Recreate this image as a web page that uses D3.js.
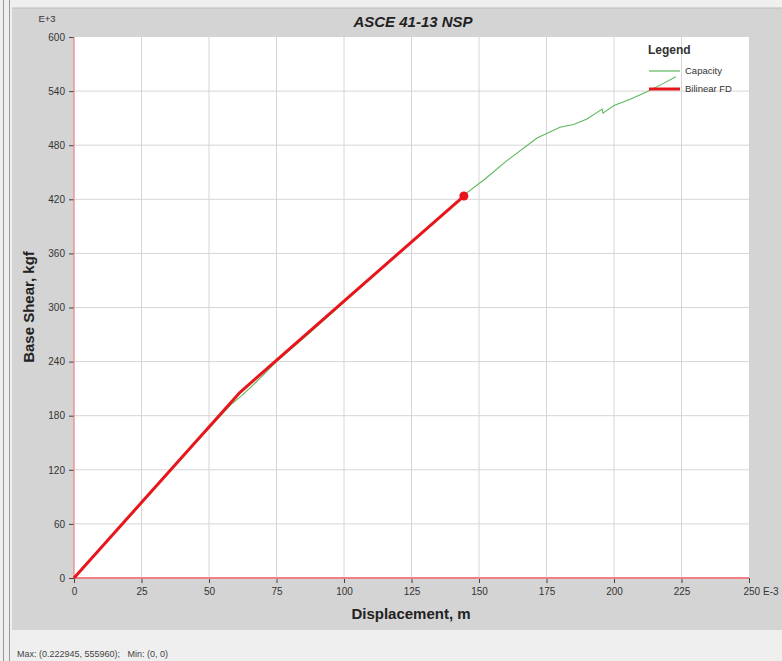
<!DOCTYPE html>
<html><head><meta charset="utf-8">
<script src="https://cdn.jsdelivr.net/npm/d3@7"></script>
<style>
body{margin:0;background:#ececec;font-family:"Liberation Sans Narrow","Liberation Sans",Arial,sans-serif;}
</style></head>
<body>
<svg id="c" width="782" height="661"></svg>
<script>
const xTicks = [0,25,50,75,100,125,150,175,200,225,250];
const yTicks = [0,60,120,180,240,300,360,420,480,540,600];
// Displacement (E-3 m) and Base shear (E+3 kgf)
const capDisp = [0,10,20,30,40,50,58,62,66,75,87,100,112,125,135,145,152,160,171.5,180,185,190,195.6,195.9,200,206,212,218,222.9];
const capShear = [0,34,68,101,134,166,192,202,213,240,271,306,338,372,398,426,442,462,488,500,503,509,520,515.6,524,531,539,548,556];
const bilDisp = [0,61.5,144.4];
const bilShear = [0,206,423.6];
const title = "ASCE 41-13 NSP";
const xTitle = "Displacement, m";
const yTitle = "Base Shear, kgf";
const statusText = "Max: (0.222945, 555960);   Min: (0, 0)";

const svg = d3.select("#c");
const L=74,R=749,T=37,B=578;
const x = d3.scaleLinear().domain([0,250]).range([L,R]);
const y = d3.scaleLinear().domain([0,600]).range([B,T]);

// frame
svg.append("rect").attr("x",0).attr("y",0).attr("width",782).attr("height",661).attr("fill","#efefef");
svg.append("rect").attr("x",12).attr("y",8).attr("width",770).attr("height",622).attr("fill","#d4d4d4");
svg.append("line").attr("x1",12).attr("x2",782).attr("y1",8).attr("y2",8).attr("stroke","#bdbdbd");
svg.append("line").attr("x1",3.5).attr("x2",3.5).attr("y1",0).attr("y2",661).attr("stroke","#9a9a9a");
svg.append("line").attr("x1",9.5).attr("x2",9.5).attr("y1",0).attr("y2",661).attr("stroke","#9a9a9a");

// plot area
svg.append("rect").attr("x",L).attr("y",T).attr("width",R-L).attr("height",B-T).attr("fill","#ffffff");

// grid
svg.append("g").selectAll("line").data(xTicks.slice(1,-1)).join("line")
  .attr("x1",d=>x(d)).attr("x2",d=>x(d)).attr("y1",T).attr("y2",B).attr("stroke","#d6d6d6");
svg.append("g").selectAll("line").data(yTicks.slice(1,-1)).join("line")
  .attr("y1",d=>y(d)).attr("y2",d=>y(d)).attr("x1",L).attr("x2",R).attr("stroke","#d6d6d6");

// axes
const xa = svg.append("g").attr("transform",`translate(0,${B})`)
  .call(d3.axisBottom(x).tickValues(xTicks).tickSize(5).tickPadding(5).tickFormat((d,i)=> d===250?"250 E-3":d));
const ya = svg.append("g").attr("transform",`translate(${L},0)`)
  .call(d3.axisLeft(y).tickValues(yTicks).tickSize(5).tickPadding(4));
[xa,ya].forEach(a=>{
  a.select(".domain").remove();
  a.selectAll(".tick line").attr("stroke","#444");
  a.selectAll("text").attr("fill","#333").style("font-size","10px").style("font-family","'Liberation Sans Narrow','Liberation Sans',sans-serif");
});
xa.selectAll(".tick").filter(d=>d===250).select("text").attr("text-anchor","start").attr("dx","-6");
svg.append("line").attr("x1",L).attr("x2",L).attr("y1",T).attr("y2",B).attr("stroke","#f07f86").attr("stroke-width",1.2);
svg.append("line").attr("x1",L).attr("x2",R).attr("y1",B).attr("y2",B).attr("stroke","#f07f86").attr("stroke-width",2);
svg.append("text").attr("x",47).attr("y",22).attr("text-anchor","middle").attr("fill","#333")
  .style("font-size","9.5px").text("E+3");

// lines
const line = d3.line().x(d=>x(d[0])).y(d=>y(d[1]));
svg.append("path").datum(capDisp.map((d,i)=>[d,capShear[i]])).attr("d",line)
  .attr("fill","none").attr("stroke","#5cb85c").attr("stroke-width",1.1);
svg.append("path").datum(bilDisp.map((d,i)=>[d,bilShear[i]])).attr("d",line)
  .attr("fill","none").attr("stroke","#e8161c").attr("stroke-width",3).attr("stroke-linejoin","round");
svg.append("circle").attr("cx",x(bilDisp[2])).attr("cy",y(bilShear[2])).attr("r",4.5).attr("fill","#e8161c");

// titles
svg.append("text").attr("x",413).attr("y",27).attr("text-anchor","middle")
  .style("font-size","15px").style("font-weight","bold").style("font-style","italic").attr("fill","#222").text(title);
svg.append("text").attr("x",411).attr("y",619).attr("text-anchor","middle")
  .style("font-size","15px").style("font-weight","bold").attr("fill","#222").text(xTitle);
svg.append("text").attr("transform","translate(34,307) rotate(-90)").attr("text-anchor","middle")
  .style("font-size","15px").style("font-weight","bold").attr("fill","#222").text(yTitle);

// legend
svg.append("text").attr("x",648).attr("y",54).style("font-size","12px").style("font-weight","bold").attr("fill","#333").text("Legend");
svg.append("line").attr("x1",649).attr("x2",680).attr("y1",71).attr("y2",71).attr("stroke","#5cb85c").attr("stroke-width",1.2);
svg.append("line").attr("x1",649).attr("x2",680).attr("y1",89).attr("y2",89).attr("stroke","#e8161c").attr("stroke-width",3);
svg.append("text").attr("x",685).attr("y",74).style("font-size","9.5px").attr("fill","#333").text("Capacity");
svg.append("text").attr("x",685).attr("y",92).style("font-size","9.5px").attr("fill","#333").text("Bilinear FD");

// status
svg.append("text").attr("x",17).attr("y",657).style("font-size","9px").attr("fill","#444").attr("xml:space","preserve").text(statusText);
</script>
</body></html>
